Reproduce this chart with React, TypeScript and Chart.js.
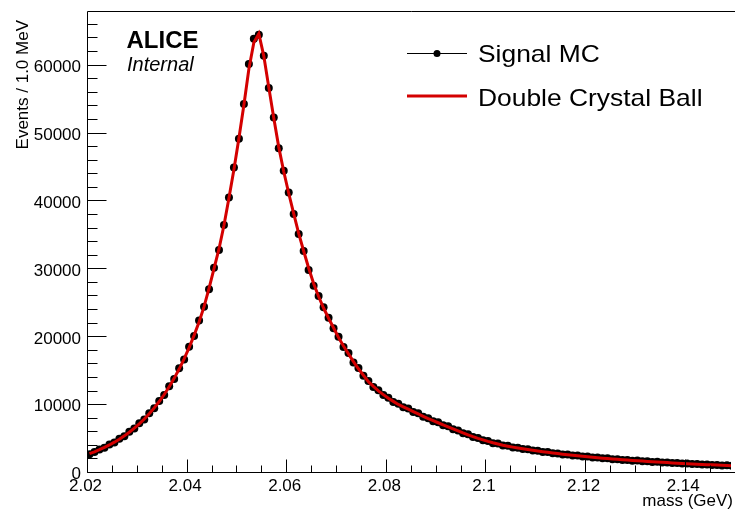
import React, { useEffect, useRef } from "react";
import { Chart, registerables } from "chart.js";
Chart.register(...registerables);

// Bin centres (1.0 MeV bins), GeV
const massBins = [
  2.0205, 2.0215, 2.0225, 2.0235, 2.0245, 2.0255, 2.0265, 2.0275, 2.0285, 2.0295,
  2.0305, 2.0315, 2.0325, 2.0335, 2.0345, 2.0355, 2.0365, 2.0375, 2.0385, 2.0395,
  2.0405, 2.0415, 2.0425, 2.0435, 2.0445, 2.0455, 2.0465, 2.0475, 2.0485, 2.0495,
  2.0505, 2.0515, 2.0525, 2.0535, 2.0545, 2.0555, 2.0565, 2.0575, 2.0585, 2.0595,
  2.0605, 2.0615, 2.0625, 2.0635, 2.0645, 2.0655, 2.0665, 2.0675, 2.0685, 2.0695,
  2.0705, 2.0715, 2.0725, 2.0735, 2.0745, 2.0755, 2.0765, 2.0775, 2.0785, 2.0795,
  2.0805, 2.0815, 2.0825, 2.0835, 2.0845, 2.0855, 2.0865, 2.0875, 2.0885, 2.0895,
  2.0905, 2.0915, 2.0925, 2.0935, 2.0945, 2.0955, 2.0965, 2.0975, 2.0985, 2.0995,
  2.1005, 2.1015, 2.1025, 2.1035, 2.1045, 2.1055, 2.1065, 2.1075, 2.1085, 2.1095,
  2.1105, 2.1115, 2.1125, 2.1135, 2.1145, 2.1155, 2.1165, 2.1175, 2.1185, 2.1195,
  2.1205, 2.1215, 2.1225, 2.1235, 2.1245, 2.1255, 2.1265, 2.1275, 2.1285, 2.1295,
  2.1305, 2.1315, 2.1325, 2.1335, 2.1345, 2.1355, 2.1365, 2.1375, 2.1385, 2.1395,
  2.1405, 2.1415, 2.1425, 2.1435, 2.1445, 2.1455, 2.1465, 2.1475, 2.1485, 2.1495,
];

// Signal MC counts per bin
const signalMC = [
  2780, 3090, 3460, 3720, 4180, 4510, 5030, 5420, 6080, 6550,
  7310, 7890, 8810, 9540, 10620, 11480, 12790, 13860, 15420, 16730,
  18590, 20180, 22450, 24480, 27050, 30240, 32850, 36530, 40560, 44990,
  49220, 54340, 60240, 63970, 64560, 61460, 56700, 52360, 47850, 44500,
  41300, 38160, 35210, 32700, 29900, 27580, 26060, 24400, 22860, 21310,
  20080, 18560, 17680, 16290, 15460, 14310, 13560, 12670, 12190, 11480,
  11090, 10470, 10190, 9680, 9490, 8980, 8790, 8270, 8080, 7640,
  7480, 7040, 6870, 6450, 6260, 5850, 5690, 5300, 5160, 4830,
  4710, 4400, 4330, 4060, 4010, 3770, 3730, 3520, 3490, 3300,
  3280, 3110, 3080, 2920, 2890, 2740, 2720, 2580, 2560, 2430,
  2420, 2290, 2280, 2160, 2160, 2040, 2040, 1920, 1930, 1820,
  1830, 1720, 1730, 1630, 1640, 1540, 1560, 1470, 1480, 1390,
  1400, 1310, 1320, 1240, 1250, 1180, 1190, 1120, 1130, 1060,
];

// Double Crystal Ball fit evaluated at the bin centres
const dcbFit = [
  2850, 3120, 3430, 3770, 4130, 4540, 4980, 5470, 6010, 6600,
  7240, 7950, 8730, 9590, 10530, 11560, 12700, 13940, 15310, 16810,
  18460, 20270, 22250, 24500, 27200, 30100, 33000, 36500, 40500, 44700,
  49300, 54200, 59500, 63400, 64700, 61400, 56800, 52300, 48000, 44400,
  41200, 38200, 35300, 32700, 30200, 27900, 26000, 24300, 22800, 21400,
  19950, 18700, 17550, 16400, 15350, 14400, 13450, 12750, 12100, 11550,
  11000, 10550, 10100, 9750, 9400, 9050, 8700, 8350, 8000, 7700,
  7400, 7100, 6800, 6500, 6200, 5900, 5620, 5350, 5100, 4870,
  4650, 4450, 4270, 4100, 3950, 3810, 3680, 3560, 3450, 3340,
  3240, 3140, 3040, 2950, 2860, 2770, 2690, 2610, 2530, 2460,
  2390, 2320, 2250, 2190, 2130, 2070, 2010, 1950, 1900, 1850,
  1800, 1750, 1700, 1650, 1610, 1570, 1530, 1490, 1450, 1410,
  1370, 1335, 1300, 1265, 1230, 1200, 1170, 1140, 1110, 1080,
];

const xTickValues = [2.02, 2.04, 2.06, 2.08, 2.1, 2.12, 2.14];
const xTickLabels = ["2.02", "2.04", "2.06", "2.08", "2.1", "2.12", "2.14"];
const yTickValues = [0, 10000, 20000, 30000, 40000, 50000, 60000];
const yTickLabels = ["0", "10000", "20000", "30000", "40000", "50000", "60000"];

const X_MIN = 2.02;
const X_MAX = 2.1493;
const Y_MAX = 67900;
const FONT = '"Liberation Sans", Arial, Helvetica, sans-serif';
const RED = "#d40000";

const rootAxes = {
  id: "rootAxes",
  afterDatasetsDraw(chart: any) {
    const { ctx, chartArea } = chart;
    const xs = chart.scales.x;
    const ys = chart.scales.y;
    const L = chartArea.left + 0.5;
    const R = chart.width;
    const T = chartArea.top - 0.5;
    const B = chartArea.bottom - 0.5;
    ctx.save();
    ctx.strokeStyle = "#000";
    ctx.lineWidth = 1;
    // frame
    ctx.beginPath();
    ctx.moveTo(R, T);
    ctx.lineTo(L, T);
    ctx.lineTo(L, B);
    ctx.lineTo(R, B);
    ctx.stroke();

    // y ticks
    ctx.beginPath();
    for (let v = 0; v <= Y_MAX; v += 2000) {
      const p = Math.round(ys.getPixelForValue(v)) - 0.5;
      const major = v % 10000 === 0;
      ctx.moveTo(L, p);
      ctx.lineTo(L + (major ? 19 : 10), p);
    }
    // x ticks
    for (let k = 0; ; k++) {
      const v = X_MIN + k * 0.005;
      if (v > X_MAX + 1e-9) break;
      const p = Math.round(xs.getPixelForValue(v)) + 0.5;
      const major = k % 4 === 0;
      ctx.moveTo(p, B);
      ctx.lineTo(p, B - (major ? 13 : 7));
    }
    ctx.stroke();

    ctx.fillStyle = "#000";
    ctx.font = `17px ${FONT}`;
    // y labels
    ctx.textAlign = "right";
    ctx.textBaseline = "alphabetic";
    yTickValues.forEach((v, i) => {
      const p = ys.getPixelForValue(v);
      ctx.fillText(yTickLabels[i], 81, p + 6.3);
    });
    // x labels
    ctx.textAlign = "center";
    xTickValues.forEach((v, i) => {
      const p = xs.getPixelForValue(v);
      ctx.fillText(xTickLabels[i], p - 1.5, 491);
    });
    // x title
    ctx.textAlign = "right";
    ctx.fillText("mass (GeV)", 733, 506);
    // y title
    ctx.save();
    ctx.translate(28, 20);
    ctx.rotate(-Math.PI / 2);
    ctx.textAlign = "right";
    ctx.fillText("Events / 1.0 MeV", 0, 0);
    ctx.restore();

    // ALICE Internal
    ctx.textAlign = "left";
    ctx.font = `bold 24px ${FONT}`;
    ctx.fillText("ALICE", 126.5, 48.3);
    ctx.font = `italic 20px ${FONT}`;
    ctx.fillText("Internal", 127, 71);

    // Legend
    ctx.beginPath();
    ctx.strokeStyle = "#000";
    ctx.lineWidth = 1;
    ctx.moveTo(407, 53.5);
    ctx.lineTo(467, 53.5);
    ctx.stroke();
    ctx.beginPath();
    ctx.arc(437, 53.5, 3.5, 0, Math.PI * 2);
    ctx.fill();
    ctx.beginPath();
    ctx.strokeStyle = RED;
    ctx.lineWidth = 3;
    ctx.moveTo(407, 96);
    ctx.lineTo(467, 96);
    ctx.stroke();

    ctx.font = `24px ${FONT}`;
    ctx.fillStyle = "#000";
    const legendText = (t: string, x: number, y: number) => {
      ctx.save();
      ctx.translate(x, y);
      ctx.scale(1.1, 1);
      ctx.fillText(t, 0, 0);
      ctx.restore();
    };
    legendText("Signal MC", 478, 62.3);
    legendText("Double Crystal Ball", 478, 105.7);
    ctx.restore();
  },
};

export default function App() {
  const ref = useRef<HTMLCanvasElement>(null);
  useEffect(() => {
    const chart = new Chart(ref.current as HTMLCanvasElement, {
      type: "scatter",
      data: {
        datasets: [
          {
            type: "line",
            label: "Double Crystal Ball",
            data: massBins.map((x, i) => ({ x, y: dcbFit[i] })),
            borderColor: RED,
            backgroundColor: RED,
            borderWidth: 3,
            pointRadius: 0,
            tension: 0,
            fill: false,
            order: 0,
          } as any,
          {
            type: "scatter",
            label: "Signal MC",
            data: massBins.map((x, i) => ({ x, y: signalMC[i] })),
            backgroundColor: "#000",
            borderColor: "#000",
            pointRadius: 4,
            borderWidth: 0,
            order: 1,
          } as any,
        ],
      },
      options: {
        responsive: false,
        animation: false,
        devicePixelRatio: 1,
        events: [],
        layout: { padding: { left: 87, right: 0, top: 12, bottom: 39 } },
        plugins: { legend: { display: false }, tooltip: { enabled: false } },
        scales: {
          x: { type: "linear", min: X_MIN, max: X_MAX, display: false },
          y: { type: "linear", min: 0, max: Y_MAX, display: false },
        },
      },
      plugins: [rootAxes],
    });
    return () => chart.destroy();
  }, []);
  return (
    <div style={{ position: "absolute", left: 0, top: 0, width: 735, height: 512, background: "#fff", overflow: "hidden" }}>
      <canvas ref={ref} width={735} height={512} style={{ display: "block", width: 735, height: 512 }} />
    </div>
  );
}
